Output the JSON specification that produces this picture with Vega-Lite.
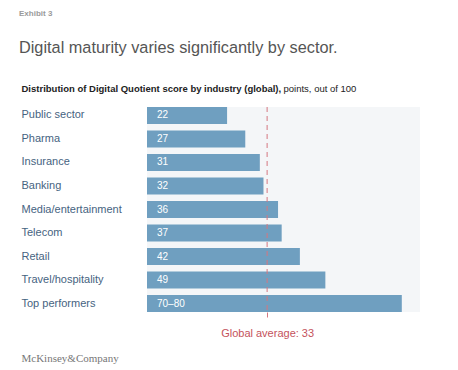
{
  "$schema": "https://vega.github.io/schema/vega-lite/v6.json",
  "autosize": "none",
  "width": 273,
  "height": 205,
  "padding": {"left": 147, "top": 107, "right": 38, "bottom": 58},
  "background": "white",
  "view": {"fill": "#f4f6f8", "stroke": null},
  "config": {"font": "Liberation Sans"},
  "title": {
    "text": "Exhibit 3",
    "subtitle": "Digital maturity varies significantly by sector.",
    "anchor": "start",
    "frame": "group",
    "dx": -128,
    "fontSize": 8,
    "fontWeight": "bold",
    "color": "#9a9a9a",
    "subtitleFontSize": 16.3,
    "subtitleColor": "#555555",
    "subtitlePadding": 22,
    "subtitleDx": 2,
    "offset": 27
  },
  "data": {
    "values": [
      {"industry": "Public sector", "score": 22, "label": "22"},
      {"industry": "Pharma", "score": 27, "label": "27"},
      {"industry": "Insurance", "score": 31, "label": "31"},
      {"industry": "Banking", "score": 32, "label": "32"},
      {"industry": "Media/entertainment", "score": 36, "label": "36"},
      {"industry": "Telecom", "score": 37, "label": "37"},
      {"industry": "Retail", "score": 42, "label": "42"},
      {"industry": "Travel/hospitality", "score": 49, "label": "49"},
      {"industry": "Top performers", "score": 70, "label": "70–80"}
    ]
  },
  "encoding": {
    "y": {
      "field": "industry",
      "type": "nominal",
      "sort": null,
      "scale": {"paddingInner": 0.277, "paddingOuter": 0},
      "axis": {
        "title": "points, out of 100",
        "titleAngle": 0,
        "titleX": 136,
        "titleY": -16,
        "titleAlign": "left",
        "titleBaseline": "alphabetic",
        "titleFontSize": 9.5,
        "titleFontWeight": "normal",
        "titleColor": "#222222",
        "domain": false,
        "ticks": false,
        "tickSize": 0,
        "labelPadding": 126,
        "labelAlign": "left",
        "labelFontSize": 11,
        "labelColor": "#46637f"
      }
    }
  },
  "layer": [
    {
      "mark": {"type": "bar", "color": "#6f9fc0"},
      "encoding": {
        "x": {
          "field": "score",
          "type": "quantitative",
          "scale": {"domain": [0, 75], "nice": false, "zero": true},
          "axis": {
            "orient": "bottom",
            "values": [33],
            "labelExpr": "'Global average: ' + datum.value",
            "labelFontSize": 11,
            "labelColor": "#c4525c",
            "labelPadding": 7,
            "tickSize": 8,
            "tickColor": "#d47780",
            "tickDash": [5, 4],
            "domain": false,
            "grid": false,
            "title": "McKinsey&Company",
            "titleFont": "Liberation Serif",
            "titleFontSize": 11,
            "titleFontWeight": "normal",
            "titleColor": "#777777",
            "titleX": -126,
            "titleY": 49,
            "titleAlign": "left",
            "titleBaseline": "alphabetic"
          }
        }
      }
    },
    {
      "data": {"values": [{"avg": 33}]},
      "mark": {"type": "rule", "color": "#d47780", "strokeDash": [5, 4], "strokeWidth": 1},
      "encoding": {
        "y": null,
        "x": {
          "field": "avg",
          "type": "quantitative",
          "axis": {
            "orient": "top",
            "labels": false,
            "ticks": false,
            "domain": false,
            "grid": false,
            "title": "Distribution of Digital Quotient score by industry (global),",
            "titleFontSize": 9.5,
            "titleFontWeight": "bold",
            "titleColor": "#222222",
            "titleX": -126,
            "titleY": -16,
            "titleAlign": "left",
            "titleBaseline": "alphabetic"
          }
        }
      }
    },
    {
      "mark": {"type": "text", "color": "white", "align": "left", "baseline": "middle", "dx": 10, "fontSize": 10},
      "encoding": {
        "x": {"datum": 0, "type": "quantitative", "axis": null},
        "text": {"field": "label"}
      }
    }
  ],
  "resolve": {"axis": {"x": "independent"}}
}
